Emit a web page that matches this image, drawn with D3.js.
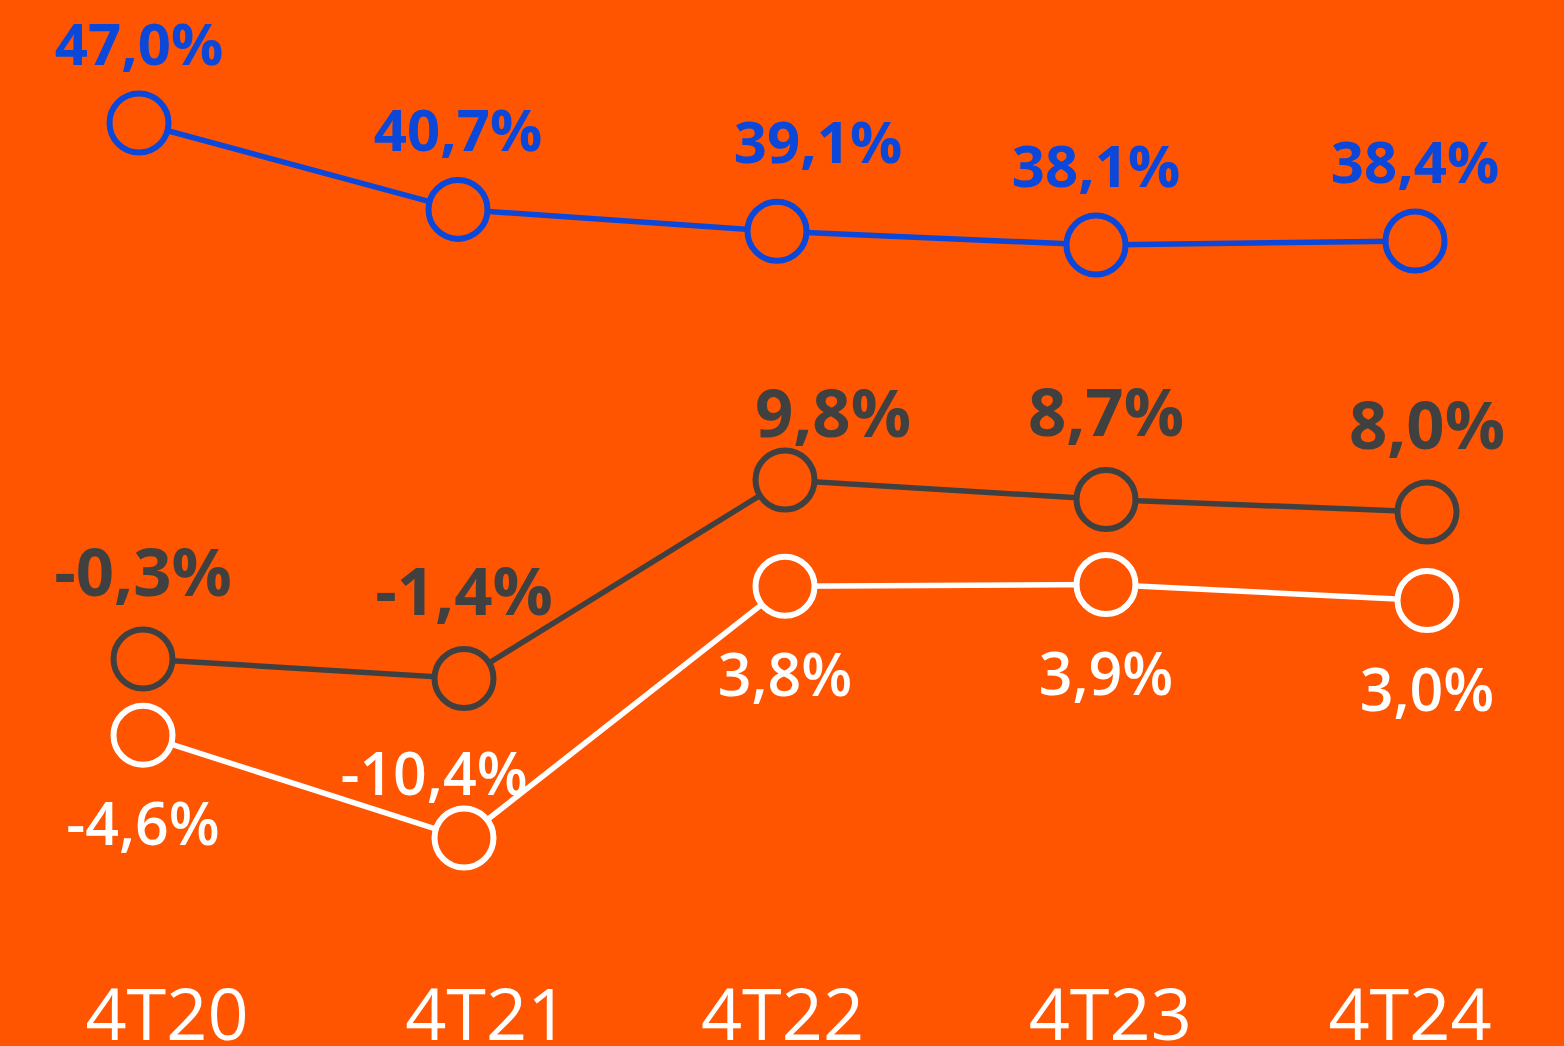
<!DOCTYPE html>
<html>
<head>
<meta charset="utf-8">
<script src="https://cdn.jsdelivr.net/npm/d3@7"></script>
<style>
  body { margin: 0; background: #ff5500; }
  svg { display: block; font-family: "Open Sans", "Noto Sans", sans-serif; }
</style>
</head>
<body>
<div id="chart"></div>
<script>
const quarters = ["4T20", "4T21", "4T22", "4T23", "4T24"];
const blueValues = [47.0, 40.7, 39.1, 38.1, 38.4];
const greyValues = [-0.3, -1.4, 9.8, 8.7, 8.0];
const whiteValues = [-4.6, -10.4, 3.8, 3.9, 3.0];

// label nudges (dx, dy) per point, layout only
const blueNudge = [[0, 0], [0, 0], [41, -10], [0, 0], [0, 0]];
const greyNudge = [[0, 0], [0, 0], [48, 20], [0, 0], [0, 0]];
const whiteNudge = [[0, 0], [-30, -153], [0, 0], [0, 0], [0, 0]];
const axisNudge = [0, 9, -6, 11, 0];

const width = 1564, height = 1046;

const svg = d3.select("#chart")
  .append("svg")
  .attr("width", width)
  .attr("height", height);

svg.append("rect").attr("width", width).attr("height", height).attr("fill", "#ff5500");

const xTop = d3.scalePoint().domain(quarters).range([139, 1415]);
const xLow = d3.scalePoint().domain(quarters).range([143, 1427]);
const xAxis = d3.scalePoint().domain(quarters).range([167, 1410]);

// blue series on its own scale, the two lower series share one
const yTop = d3.scaleLinear().domain([38, 47]).range([246.4, 123]);
const yLow = d3.scaleLinear().domain([-10.4, 9.8]).range([838, 480]);

const fmt = v => d3.format(".1f")(v).replace(".", ",").replace("−", "-") + "%";

function drawSeries(values, x, y, color, nudge, labelDy, fontSize, weight) {
  const pts = values.map((v, i) => ({ q: quarters[i], v, i }));
  const g = svg.append("g");
  g.append("path")
    .datum(pts)
    .attr("fill", "none")
    .attr("stroke", color)
    .attr("stroke-width", 5.5)
    .attr("d", d3.line().x(d => x(d.q)).y(d => y(d.v)));
  g.selectAll("circle")
    .data(pts)
    .join("circle")
    .attr("cx", d => x(d.q))
    .attr("cy", d => y(d.v))
    .attr("r", 29.5)
    .attr("fill", "#ff5500")
    .attr("stroke", color)
    .attr("stroke-width", 6);
  g.selectAll("text")
    .data(pts)
    .join("text")
    .attr("x", d => x(d.q) + nudge[d.i][0])
    .attr("y", d => y(d.v) + labelDy + nudge[d.i][1])
    .attr("text-anchor", "middle")
    .attr("fill", color)
    .attr("font-size", fontSize)
    .attr("font-weight", weight)
    .text(d => fmt(d.v));
}

drawSeries(blueValues, xTop, yTop, "#0b47d9", blueNudge, -58, 58, 700);
drawSeries(greyValues, xLow, yLow, "#404040", greyNudge, -63, 67, 700);
drawSeries(whiteValues, xLow, yLow, "#ffffff", whiteNudge, 110, 59, 600);

svg.append("g")
  .attr("transform", `translate(0,${1040})`)
  .selectAll("text")
  .data(quarters)
  .join("text")
  .attr("x", (d, i) => xAxis(d) + axisNudge[i])
  .attr("text-anchor", "middle")
  .attr("fill", "#ffffff")
  .attr("font-size", 72)
  .attr("font-weight", 400)
  .text(d => d);
</script>
</body>
</html>
